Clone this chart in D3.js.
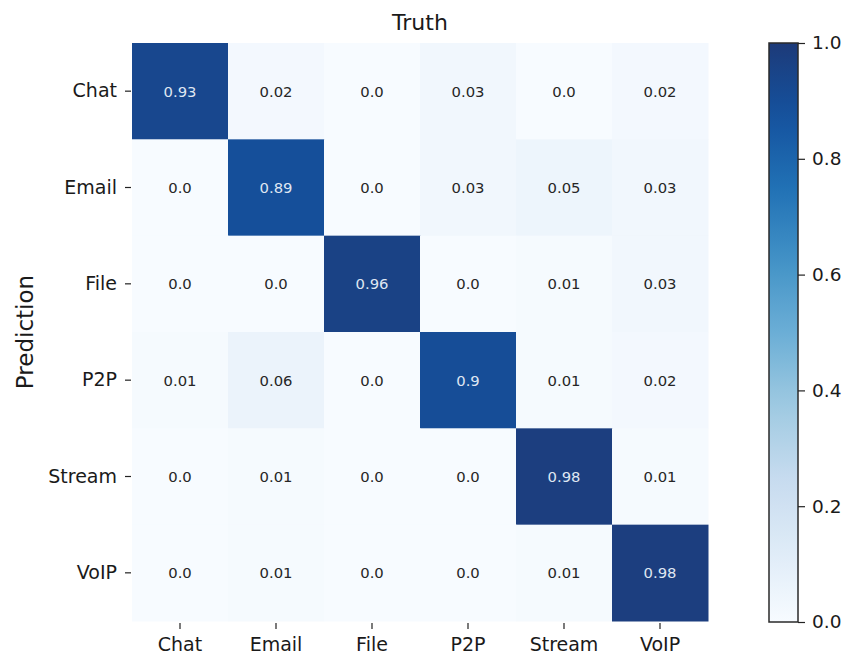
<!DOCTYPE html>
<html>
<head>
<meta charset="utf-8">
<script src="https://cdn.jsdelivr.net/npm/d3@7"></script>
<style>
  html, body { margin: 0; padding: 0; background: #ffffff; }
  svg { display: block; font-family: "DejaVu Sans", sans-serif; }
</style>
</head>
<body>
<svg id="chart" width="849" height="658"></svg>
<script>
// Confusion matrix: rows are predicted class, columns are true class
const classes = ["Chat", "Email", "File", "P2P", "Stream", "VoIP"];
const rowChat   = [0.93, 0.02, 0.0, 0.03, 0.0, 0.02];
const rowEmail  = [0.0, 0.89, 0.0, 0.03, 0.05, 0.03];
const rowFile   = [0.0, 0.0, 0.96, 0.0, 0.01, 0.03];
const rowP2P    = [0.01, 0.06, 0.0, 0.9, 0.01, 0.02];
const rowStream = [0.0, 0.01, 0.0, 0.0, 0.98, 0.01];
const rowVoIP   = [0.0, 0.01, 0.0, 0.0, 0.01, 0.98];
const colorbarTicks = [0.0, 0.2, 0.4, 0.6, 0.8, 1.0];

const matrix = [rowChat, rowEmail, rowFile, rowP2P, rowStream, rowVoIP];
const cells = [];
matrix.forEach((row, i) => row.forEach((v, j) => cells.push({ pred: classes[i], truth: classes[j], value: v })));

const svg = d3.select("#chart");

const plot = { left: 132, right: 708, top: 43, bottom: 621 };
const x = d3.scaleBand().domain(classes).range([plot.left, plot.right]);
const y = d3.scaleBand().domain(classes).range([plot.top, plot.bottom]);

// Blues-style sequential ramp
const color = d3.scaleLinear()
  .domain([0, 0.125, 0.25, 0.375, 0.5, 0.625, 0.75, 0.875, 1.0])
  .range(["#f7fbff", "#deebf7", "#c6dbef", "#9ecae1", "#6baed6", "#4292c6", "#2171b5", "#14529f", "#1d3a79"])
  .clamp(true);

const fmt = v => (Math.round(v * 10) === v * 10 && Math.round(v * 10) % 10 === 0) ? v.toFixed(1) : String(v);

// Heatmap cells
svg.append("g").selectAll("rect")
  .data(cells)
  .join("rect")
  .attr("x", d => x(d.truth))
  .attr("y", d => y(d.pred))
  .attr("width", x.bandwidth() + 0.5)
  .attr("height", y.bandwidth() + 0.5)
  .attr("fill", d => color(d.value));

// Cell annotations
svg.append("g").selectAll("text")
  .data(cells)
  .join("text")
  .attr("x", d => x(d.truth) + x.bandwidth() / 2)
  .attr("y", d => y(d.pred) + y.bandwidth() / 2)
  .attr("text-anchor", "middle")
  .attr("dominant-baseline", "central")
  .attr("font-size", 14.8)
  .attr("fill", d => d.value > 0.5 ? "#dfe6f2" : "#262626")
  .text(d => fmt(d.value));

// Axes
const xAxis = svg.append("g")
  .attr("transform", `translate(0,${plot.bottom + 2})`)
  .call(d3.axisBottom(x).tickSize(6).tickPadding(9));
const yAxis = svg.append("g")
  .attr("transform", `translate(${plot.left - 1},0)`)
  .call(d3.axisLeft(y).tickSize(6).tickPadding(8));
[xAxis, yAxis].forEach(a => {
  a.select(".domain").remove();
  a.selectAll(".tick line").attr("stroke", "#222").attr("stroke-width", 1.2);
  a.selectAll(".tick text").attr("font-size", 19).attr("fill", "#1a1a1a")
    .attr("font-family", "DejaVu Sans, sans-serif");
});

// Title and axis label
svg.append("text")
  .attr("x", (plot.left + plot.right) / 2)
  .attr("y", 30)
  .attr("text-anchor", "middle")
  .attr("font-size", 22)
  .attr("fill", "#1a1a1a")
  .text("Truth");

svg.append("text")
  .attr("transform", `translate(33,${(plot.top + plot.bottom) / 2}) rotate(-90)`)
  .attr("text-anchor", "middle")
  .attr("font-size", 23)
  .attr("fill", "#1a1a1a")
  .text("Prediction");

// Colorbar
const cb = { left: 769, width: 29, top: 43, bottom: 622 };
const cbScale = d3.scaleLinear().domain([0, 1]).range([cb.bottom, cb.top]);

const defs = svg.append("defs");
const grad = defs.append("linearGradient")
  .attr("id", "cbgrad")
  .attr("x1", 0).attr("y1", 1).attr("x2", 0).attr("y2", 0);
d3.range(0, 1.0001, 0.05).forEach(t => {
  grad.append("stop").attr("offset", t).attr("stop-color", color(t));
});

svg.append("rect")
  .attr("x", cb.left)
  .attr("y", cb.top)
  .attr("width", cb.width)
  .attr("height", cb.bottom - cb.top)
  .attr("fill", "url(#cbgrad)")
  .attr("stroke", "#2a2a2a")
  .attr("stroke-width", 1.5);

const cbAxis = svg.append("g")
  .attr("transform", `translate(${cb.left + cb.width},0)`)
  .call(d3.axisRight(cbScale).tickValues(colorbarTicks).tickFormat(d3.format(".1f")).tickSize(7).tickPadding(7));
cbAxis.select(".domain").remove();
cbAxis.selectAll(".tick line").attr("stroke", "#222").attr("stroke-width", 1.2);
cbAxis.selectAll(".tick text").attr("font-size", 18.5).attr("fill", "#1a1a1a")
  .attr("font-family", "DejaVu Sans, sans-serif");
</script>
</body>
</html>
